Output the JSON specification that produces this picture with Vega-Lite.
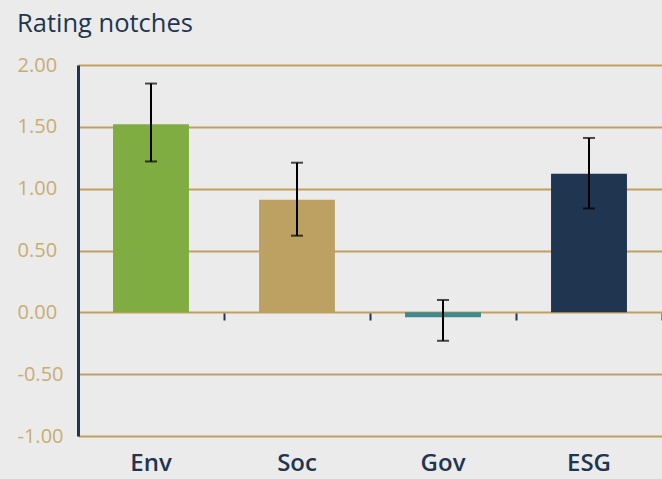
{
  "$schema": "https://vega.github.io/schema/vega-lite/v6.json",
  "autosize": "none",
  "width": 584,
  "height": 371,
  "padding": {"left": 78, "top": 65, "right": 0, "bottom": 43},
  "background": "#ebebeb",
  "title": {
    "text": "Rating notches",
    "anchor": "start",
    "frame": "group",
    "dx": -61,
    "offset": 18,
    "fontSize": 25.5,
    "font": "Open Sans",
    "fontWeight": "normal",
    "color": "#1f3550"
  },
  "config": {"view": {"stroke": null}},
  "data": {
    "values": [
      {"cat": "Env", "value": 1.52, "lo": 1.22, "hi": 1.85, "color": "#80ad41"},
      {"cat": "Soc", "value": 0.91, "lo": 0.62, "hi": 1.21, "color": "#bda163"},
      {"cat": "Gov", "value": -0.04, "lo": -0.23, "hi": 0.1, "color": "#428888"},
      {"cat": "ESG", "value": 1.12, "lo": 0.84, "hi": 1.41, "color": "#1f3550"}
    ]
  },
  "layer": [
    {
      "encoding": {
        "x": {
          "field": "cat",
          "type": "nominal",
          "sort": null,
          "scale": {"paddingInner": 0.48, "paddingOuter": 0.24},
          "axis": {
            "orient": "bottom",
            "title": null,
            "domain": false,
            "ticks": false,
            "labelAngle": 0,
            "labelFont": "Open Sans",
            "labelFontSize": 24,
            "labelFontWeight": 600,
            "labelColor": "#1f3550",
            "labelPadding": 15
          }
        }
      },
      "layer": [
        {
          "mark": {"type": "bar"},
          "encoding": {
            "y": {
              "field": "value",
              "type": "quantitative",
              "scale": {"domain": [-1, 2], "nice": false},
              "axis": {
                "title": null,
                "values": [-1, -0.5, 0, 0.5, 1, 1.5, 2],
                "format": ".2f",
                "labelExpr": "replace(datum.label, '\u2212', '-')",
                "grid": true,
                "gridColor": "#bfa060",
                "gridWidth": 2,
                "gridOpacity": 1,
                "domain": true,
                "domainColor": "#1f3550",
                "domainWidth": 3,
                "ticks": false,
                "tickSize": 0,
                "labelAlign": "left",
                "labelPadding": 61,
                "labelFont": "Open Sans",
                "labelFontSize": 20,
                "labelColor": "#c8ad72"
              }
            },
            "color": {"field": "color", "type": "nominal", "scale": null, "legend": null}
          }
        },
        {
          "mark": {"type": "rule", "color": "#000000", "strokeWidth": 2},
          "encoding": {
            "y": {"field": "lo", "type": "quantitative"},
            "y2": {"field": "hi"}
          }
        },
        {
          "mark": {"type": "tick", "color": "#000000", "orient": "horizontal", "size": 12, "thickness": 2},
          "encoding": {
            "y": {"field": "lo", "type": "quantitative"}
          }
        },
        {
          "mark": {"type": "tick", "color": "#000000", "orient": "horizontal", "size": 12, "thickness": 2},
          "encoding": {
            "y": {"field": "hi", "type": "quantitative"}
          }
        }
      ]
    },
    {
      "mark": {"type": "rule", "opacity": 0},
      "encoding": {
        "x": {
          "field": "cat",
          "type": "nominal",
          "sort": null,
          "scale": {"paddingInner": 0, "paddingOuter": 0},
          "axis": {
            "orient": "top",
            "offset": -248,
            "title": null,
            "labels": false,
            "domain": false,
            "ticks": true,
            "values": ["Soc", "Gov", "ESG"],
            "tickBand": "extent",
            "tickColor": "#1f3550",
            "tickWidth": 2,
            "tickSize": -7
          }
        }
      }
    }
  ],
  "resolve": {"scale": {"x": "independent"}, "axis": {"x": "independent"}}
}
